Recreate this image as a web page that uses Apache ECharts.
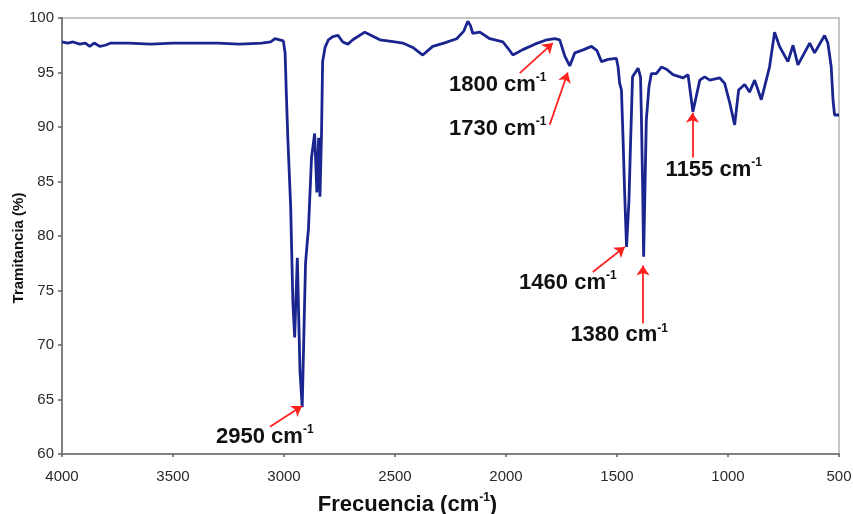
<!DOCTYPE html>
<html>
<head>
<meta charset="utf-8">
<script src="https://cdn.jsdelivr.net/npm/echarts@6/dist/echarts.min.js"></script>
<style>
html,body{margin:0;padding:0;background:#fff;}
#chart{width:853px;height:514px;}
</style>
</head>
<body>
<div id="chart"></div>
<script>
// Wavenumber (cm-1)
var wavenumbers = [4000,3975,3950,3920,3895,3875,3855,3830,3805,3780,3700,3600,3500,3400,3300,3200,3100,3060,3040,3020,3003,2995,2990,2983,2970,2960,2952,2940,2928,2918,2909,2903,2895,2890,2876,2862,2852,2844,2838,2831,2826,2815,2800,2780,2757,2735,2712,2690,2636,2568,2500,2465,2420,2375,2330,2280,2222,2190,2172,2160,2150,2118,2073,2014,1990,1969,1924,1870,1816,1780,1758,1735,1713,1690,1650,1615,1590,1570,1540,1503,1495,1488,1480,1473,1465,1457,1446,1439,1430,1405,1394,1390,1384,1380,1368,1356,1345,1323,1300,1277,1248,1203,1180,1158,1127,1105,1082,1037,1015,992,970,952,925,903,880,850,813,790,768,730,707,685,632,610,565,550,535,527,520,500];
// Transmittance (%)
var transmittance = [97.8,97.7,97.8,97.6,97.7,97.4,97.7,97.4,97.5,97.7,97.7,97.6,97.7,97.7,97.7,97.6,97.7,97.8,98.1,98.0,97.9,96.8,93.4,89.1,82.7,73.9,70.7,78.0,67.6,64.3,72.3,77.5,79.5,80.6,87.2,89.4,84.0,89.0,83.6,89.4,96.0,97.3,98.0,98.3,98.4,97.8,97.6,98.0,98.7,98.0,97.8,97.7,97.3,96.6,97.4,97.7,98.1,98.8,99.7,99.3,98.6,98.7,98.1,97.8,97.2,96.6,97.1,97.6,98.0,98.1,98.0,96.5,95.6,96.8,97.1,97.4,97.0,96.0,96.2,96.3,95.5,94.0,93.4,89.1,83.6,79.0,83.3,88.5,94.6,95.4,94.6,90.9,83.9,78.1,90.6,93.7,94.9,94.9,95.5,95.3,94.8,94.5,94.8,91.4,94.3,94.6,94.3,94.5,94.0,92.2,90.2,93.4,93.9,93.2,94.3,92.5,95.5,98.7,97.4,96.0,97.5,95.7,97.7,96.8,98.4,97.7,95.5,92.5,91.1,91.1];

var xTicks = [4000,3500,3000,2500,2000,1500,1000,500];
var yTicks = [60,65,70,75,80,85,90,95,100];

// Annotations: label text, label anchor (wavenumber, %), arrow tail, arrow head
var annotLabels = ['2950','1800','1730','1460','1380','1155'];
var annotTextAt = [[3306,61.6],[2257,93.9],[2257,89.8],[1941,75.7],[1710,70.9],[1281,86.1]];
var arrowTail = [[3063,62.5],[1938,94.95],[1803,90.2],[1609,76.7],[1383,72.0],[1160,87.2]];
var arrowHead = [[2919,64.4],[1789,97.7],[1722,95.0],[1465,79.0],[1383,77.3],[1160,91.3]];

var seriesData = wavenumbers.map(function(w,i){return [w, transmittance[i]];});
var FONT = '"Liberation Sans", Arial, sans-serif';

var chart = echarts.init(document.getElementById('chart'), null, {renderer:'canvas'});
chart.setOption({
  animation: false,
  backgroundColor: '#fff',
  grid: {left: 62, right: 14, top: 18, bottom: 60, show: true, borderColor: '#b4b4b4', borderWidth: 1.5,
         containLabel: false, outerBoundsMode: 'none'},
  xAxis: {
    type: 'value', min: 500, max: 4000, interval: 500, inverse: true,
    name: '{n|Frecuencia (cm}{s|-1}{n|)}',
    nameLocation: 'middle', nameGap: 38,
    nameTextStyle: {
      padding: [0, 86, 0, 0],
      rich: {
        n: {fontFamily: FONT, fontSize: 22, fontWeight: 'bold', color: '#111', lineHeight: 26},
        s: {fontFamily: FONT, fontSize: 12, fontWeight: 'bold', color: '#111', verticalAlign: 'top', lineHeight: 12}
      }
    },
    axisLine: {show: true, lineStyle: {color: '#808080', width: 2}},
    axisTick: {show: true, inside: false, length: 3, lineStyle: {color: '#606060', width: 1.5}},
    axisLabel: {fontFamily: FONT, fontSize: 15, color: '#2a2a2a', margin: 15,
      formatter: function(v){ return xTicks.indexOf(v) >= 0 ? String(v) : ''; }},
    splitLine: {show: false}
  },
  yAxis: {
    type: 'value', min: 60, max: 100, interval: 5,
    axisLine: {show: true, lineStyle: {color: '#808080', width: 2}},
    axisTick: {show: true, inside: false, length: 4, lineStyle: {color: '#606060', width: 1.5}},
    axisLabel: {fontFamily: FONT, fontSize: 15, color: '#2a2a2a', margin: 8,
      formatter: function(v){ return yTicks.indexOf(v) >= 0 ? String(v) : ''; }},
    splitLine: {show: false}
  },
  graphic: [{
    type: 'text', x: 19, y: 248, rotation: Math.PI / 2,
    style: {text: 'Tramitancia (%)', font: 'bold 15px ' + FONT, fill: '#111', textAlign: 'center', textVerticalAlign: 'middle'}
  }],
  series: [{
    type: 'line',
    data: seriesData,
    showSymbol: false,
    symbol: 'none',
    lineStyle: {color: '#1a2590', width: 2.8},
    silent: true,
    markLine: {
      silent: true,
      symbol: ['none', 'arrow'],
      symbolSize: 10,
      lineStyle: {color: '#ff2020', width: 1.8, type: 'solid'},
      label: {show: false},
      emphasis: {disabled: true},
      data: arrowTail.map(function(t,i){ return [{coord: t}, {coord: arrowHead[i]}]; })
    },
    markPoint: {
      silent: true,
      symbol: 'circle',
      symbolSize: 0,
      itemStyle: {color: 'transparent'},
      label: {
        show: true, position: 'right', distance: 0,
        rich: {
          a: {fontFamily: FONT, fontSize: 22, fontWeight: 'bold', color: '#111', lineHeight: 26},
          b: {fontFamily: FONT, fontSize: 12, fontWeight: 'bold', color: '#111', verticalAlign: 'top', lineHeight: 12}
        }
      },
      data: annotLabels.map(function(l,i){
        return {coord: annotTextAt[i], value: l, label: {formatter: '{a|' + l + ' cm}{b|-1}'}};
      })
    }
  }]
});
</script>
</body>
</html>
